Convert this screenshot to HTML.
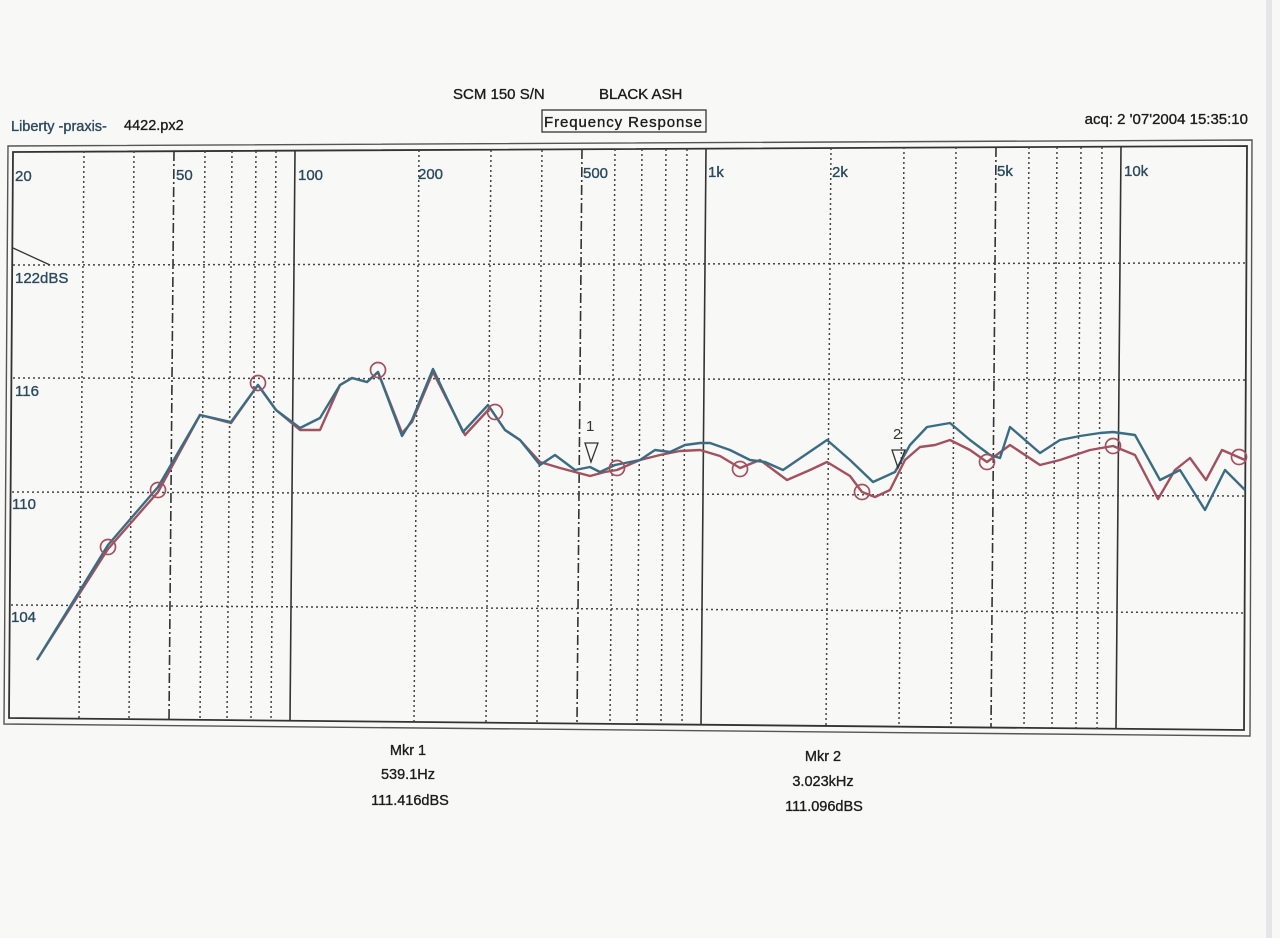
<!DOCTYPE html>
<html><head><meta charset="utf-8"><style>
html,body{margin:0;padding:0;background:#f8f8f6;}
svg{display:block;}
text{font-family:"Liberation Sans",Arial,sans-serif;stroke-width:0.35;}
</style></head><body>
<svg width="1280" height="938" viewBox="0 0 1280 938" xmlns="http://www.w3.org/2000/svg">
<rect width="1280" height="938" fill="#f8f8f6"/>
<rect x="1266" y="0" width="6" height="938" fill="#e6e6e8"/>
<!-- header -->
<text x="453" y="99" font-size="15" fill="#1c1c1c" stroke="#1c1c1c">SCM 150  S/N</text>
<text x="599" y="99" font-size="15" fill="#1c1c1c" stroke="#1c1c1c">BLACK ASH</text>
<rect x="542" y="110" width="164" height="22" fill="none" stroke="#333" stroke-width="1.3"/>
<text x="544" y="127" font-size="15" fill="#1c1c1c" stroke="#1c1c1c" textLength="158">Frequency Response</text>
<text x="11" y="131" font-size="14.5" fill="#2b4a5e" stroke="#2b4a5e">Liberty -praxis-</text>
<text x="124" y="130" font-size="14.5" fill="#1c1c1c" stroke="#1c1c1c">4422.px2</text>
<text x="1248" y="124" font-size="15" fill="#1c1c1c" stroke="#1c1c1c" text-anchor="end">acq: 2    '07'2004 15:35:10</text>
<!-- outer frame -->
<polygon points="8,146 1252,140 1250,736 4,724" fill="none" stroke="#555" stroke-width="1.4"/>
<polygon points="13,152 1247,146 1244,730 9,718" fill="none" stroke="#333" stroke-width="1.8"/>
<!-- horizontal grid -->
<g stroke="#444" stroke-width="1.5" stroke-dasharray="2,3">
<line x1="13" y1="265" x2="1247" y2="263"/>
<line x1="13" y1="378" x2="1247" y2="380"/>
<line x1="12" y1="492" x2="1246" y2="496"/>
<line x1="11" y1="605" x2="1245" y2="613"/>
</g>
<!-- vertical dotted -->
<g stroke="#444" stroke-width="1.5" stroke-dasharray="2,3">
<line x1="84" y1="151" x2="79" y2="719"/>
<line x1="134" y1="151" x2="129" y2="719"/>
<line x1="205" y1="151" x2="200" y2="720"/>
<line x1="232" y1="151" x2="227" y2="720"/>
<line x1="256" y1="151" x2="251" y2="720"/>
<line x1="276" y1="151" x2="271" y2="720"/>
<line x1="419" y1="150" x2="414" y2="721"/>
<line x1="491" y1="150" x2="486" y2="722"/>
<line x1="542" y1="150" x2="537" y2="722"/>
<line x1="615" y1="149" x2="610" y2="723"/>
<line x1="642" y1="149" x2="637" y2="723"/>
<line x1="666" y1="149" x2="661" y2="724"/>
<line x1="687" y1="149" x2="682" y2="724"/>
<line x1="831" y1="148" x2="826" y2="726"/>
<line x1="904" y1="147" x2="899" y2="726"/>
<line x1="956" y1="147" x2="951" y2="727"/>
<line x1="1029" y1="147" x2="1024" y2="728"/>
<line x1="1057" y1="147" x2="1052" y2="728"/>
<line x1="1081" y1="147" x2="1076" y2="728"/>
<line x1="1102" y1="147" x2="1097" y2="729"/>
</g>
<g stroke="#333" stroke-width="1.6" stroke-dasharray="10,3,2,3">
<line x1="174" y1="151" x2="169" y2="720"/>
<line x1="582" y1="149" x2="577" y2="723"/>
<line x1="996" y1="147" x2="991" y2="727"/>
</g>
<g stroke="#333" stroke-width="1.6">
<line x1="295" y1="151" x2="290" y2="721"/>
<line x1="706" y1="149" x2="701" y2="725"/>
<line x1="1121" y1="147" x2="1116" y2="729"/>
</g>
<!-- ref triangle -->
<polyline points="13,248 50,265" fill="none" stroke="#333" stroke-width="1.3"/>
<!-- axis labels -->
<g font-size="15" fill="#2b4a5e" stroke="#2b4a5e">
<text x="15" y="181">20</text>
<text x="176" y="180">50</text>
<text x="298" y="180">100</text>
<text x="418" y="179">200</text>
<text x="583" y="178">500</text>
<text x="708" y="177">1k</text>
<text x="832" y="177">2k</text>
<text x="997" y="176">5k</text>
<text x="1124" y="176">10k</text>
<text x="15" y="283">122dBS</text>
<text x="15" y="396">116</text>
<text x="12" y="509">110</text>
<text x="11" y="622">104</text>
</g>
<!-- red curve -->
<polyline fill="none" stroke="#a3505f" stroke-width="2.4" stroke-linejoin="round" points="37,660 108,549 158,492 200,415 231,423 258,385 276,410 300,430 320,430 340,385 352,378 367,382 378,372 402,433 412,422 433,372 465,435 490,408 505,430 520,440 540,462 560,468 575,472 590,476 605,472 617,470 640,460 660,455 680,451 700,450 720,456 740,468 760,460 787,480 810,470 827,462 850,476 862,492 875,497 890,490 905,460 920,447 935,445 950,440 970,450 987,462 1010,445 1040,465 1060,460 1090,450 1113,446 1135,455 1158,499 1175,470 1190,458 1206,480 1222,450 1245,460"/>
<!-- blue curve -->
<polyline fill="none" stroke="#3b6d82" stroke-width="2.4" stroke-linejoin="round" points="37,660 108,545 158,487 200,415 231,422 258,385 276,410 300,428 320,418 340,385 352,378 367,382 378,372 402,436 412,420 433,369 463,432 488,405 505,430 520,440 540,465 555,455 575,470 590,467 600,472 615,465 640,460 655,450 670,452 685,445 700,443 710,443 730,450 750,460 765,462 783,470 805,455 827,440 850,460 873,482 895,472 910,445 927,427 950,423 970,440 990,455 1000,458 1010,427 1025,440 1040,453 1060,440 1080,436 1100,433 1113,432 1135,435 1160,480 1180,470 1205,510 1225,470 1245,490"/>
<!-- circles -->
<g fill="none" stroke="#a3505f" stroke-width="1.7">
<circle cx="108" cy="547" r="7.5"/>
<circle cx="158" cy="490" r="7.5"/>
<circle cx="258" cy="383" r="7.5"/>
<circle cx="378" cy="370" r="7.5"/>
<circle cx="495" cy="412" r="7.5"/>
<circle cx="617" cy="468" r="7.5"/>
<circle cx="740" cy="469" r="7.5"/>
<circle cx="862" cy="492" r="7.5"/>
<circle cx="987" cy="462" r="7.5"/>
<circle cx="1113" cy="446" r="7.5"/>
<circle cx="1239" cy="457" r="7.5"/>
</g>
<!-- markers -->
<text x="586" y="431" font-size="15" fill="#333">1</text>
<polygon points="585,443 598,443 591,462" fill="none" stroke="#333" stroke-width="1.3"/>
<text x="893" y="439" font-size="15" fill="#333">2</text>
<polygon points="892,450 905,450 898,468" fill="none" stroke="#333" stroke-width="1.3"/>
<!-- marker readouts -->
<g font-size="14.5" fill="#1c1c1c" stroke="#1c1c1c" text-anchor="middle">
<text x="408" y="755">Mkr 1</text>
<text x="408" y="779">539.1Hz</text>
<text x="410" y="805">111.416dBS</text>
<text x="823" y="761">Mkr 2</text>
<text x="823" y="786">3.023kHz</text>
<text x="824" y="811">111.096dBS</text>
</g>
</svg>
</body></html>
